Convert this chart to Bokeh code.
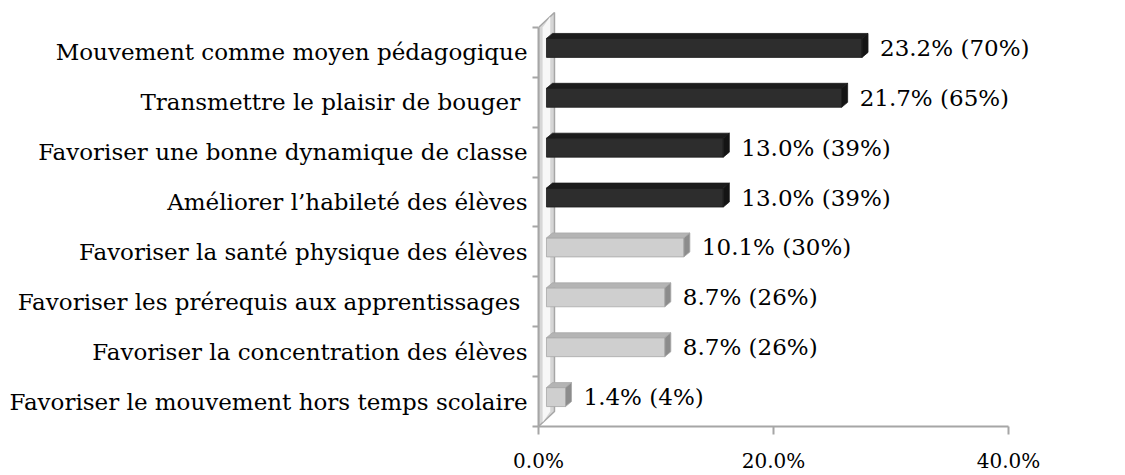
from bokeh.plotting import figure
from bokeh.models import Range1d, LinearAxis, FixedTicker, PrintfTickFormatter, ColumnDataSource
from bokeh.core.properties import value
from bokeh.embed import file_html
from bokeh.resources import INLINE

categories = [
    "Mouvement comme moyen pédagogique",
    "Transmettre  le plaisir de bouger",
    "Favoriser une bonne dynamique de classe",
    "Améliorer l’habileté des élèves",
    "Favoriser la santé physique des élèves",
    "Favoriser les prérequis aux apprentissages ",
    "Favoriser la concentration des élèves",
    "Favoriser le mouvement hors temps scolaire",
]
shares = [23.2, 21.7, 13.0, 13.0, 10.1, 8.7, 8.7, 1.4]
respondents = [70, 65, 39, 39, 30, 26, 26, 4]
highlighted = [True, True, True, True, False, False, False, False]
x_ticks = [0, 20, 40]

FONT = "DejaVu Serif"
FS = "23px"
TICK_FS = "20px"

n = len(categories)
centers = [n - 0.5 - i for i in range(n)]
depth_x = 0.44   # in bar units
depth_y = 0.10
bot = [c - 0.10 for c in centers]
top = [c + 0.28 for c in centers]

front_col = ["#2d2d2d" if h else "#cfcfcf" for h in highlighted]
top_col = ["#1c1c1c" if h else "#b4b4b4" for h in highlighted]
side_col = ["#141414" if h else "#8c8c8c" for h in highlighted]
edge_col = ["#1a1a1a" if h else "#a8a8a8" for h in highlighted]

src = ColumnDataSource(dict(
    left=[0] * n, right=shares, bottom=bot, top=top,
    front=front_col, topc=top_col, side=side_col, edge=edge_col,
    label=[f"{s:.1f}% ({r}%)" for s, r in zip(shares, respondents)],
    ly=[(b + t) / 2 for b, t in zip(bot, top)],
    top_xs=[[0, s, s + depth_x, depth_x] for s in shares],
    top_ys=[[t, t, t + depth_y, t + depth_y] for t in top],
    side_xs=[[s, s + depth_x, s + depth_x, s] for s in shares],
    side_ys=[[b, b + depth_y, t + depth_y, t] for b, t in zip(bot, top)],
))

p = figure(width=1120, height=475, output_backend="svg", toolbar_location=None,
           x_range=Range1d(0, 48.51), y_range=Range1d(0, 8.38),
           x_axis_type=None, y_axis_type=None,
           min_border_left=538, min_border_right=12, min_border_top=8, min_border_bottom=48)
p.extra_x_ranges = {"bars": Range1d(-0.588, 41.32)}
p.outline_line_color = None
p.background_fill_color = "white"
p.border_fill_color = "white"

# side wall
wall_x = [0, 0, 1.36, 1.36]
wall_y = [0, n, n + 0.3, 0.3]
p.patch(wall_x, wall_y, fill_color="#d6d6d6", line_color="#a6a6a6", line_width=1.5)
p.patch([0.35, 0.35, 1.0, 1.0], [0.08, n + 0.0, n + 0.22, 0.3], fill_color="#f7f7f7", line_color=None)

# bars
p.quad(left="left", right="right", bottom="bottom", top="top", source=src,
       fill_color="front", line_color="edge", line_width=0.8, x_range_name="bars")
p.patches(xs="top_xs", ys="top_ys", source=src, fill_color="topc", line_color="edge",
          line_width=0.8, x_range_name="bars")
p.patches(xs="side_xs", ys="side_ys", source=src, fill_color="side", line_color="edge",
          line_width=0.8, x_range_name="bars")

p.text(x="right", y="ly", text="label", source=src, x_range_name="bars", x_offset=18,
       text_font=value(FONT), text_font_size=FS, text_baseline="middle", text_align="left",
       text_color="black")

xaxis = LinearAxis(ticker=FixedTicker(ticks=x_ticks), formatter=PrintfTickFormatter(format="%.1f%%"),
                   bounds=(x_ticks[0], x_ticks[-1]))
xaxis.axis_line_color = "#a6a6a6"
xaxis.axis_line_width = 2
xaxis.major_tick_line_color = "#a6a6a6"
xaxis.major_tick_line_width = 2
xaxis.major_tick_out = 8
xaxis.major_tick_in = 0
xaxis.minor_tick_line_color = None
xaxis.major_label_text_font = FONT
xaxis.major_label_text_font_size = TICK_FS
xaxis.major_label_text_color = "black"
xaxis.major_label_standoff = 14
p.add_layout(xaxis, "below")

yaxis = LinearAxis(ticker=FixedTicker(ticks=centers, minor_ticks=list(range(n + 1))),
                   bounds=(0, n))
yaxis.major_label_overrides = {c: cat for c, cat in zip(centers, categories)}
yaxis.axis_line_color = "#a6a6a6"
yaxis.axis_line_width = 2
yaxis.major_tick_line_color = None
yaxis.major_tick_out = 0
yaxis.major_tick_in = 0
yaxis.minor_tick_line_color = "#a6a6a6"
yaxis.minor_tick_line_width = 2
yaxis.minor_tick_out = 6
yaxis.minor_tick_in = 0
yaxis.major_label_text_font = FONT
yaxis.major_label_text_font_size = FS
yaxis.major_label_text_color = "black"
yaxis.major_label_standoff = 5
p.add_layout(yaxis, "left")

open("out.html", "w").write(file_html(p, INLINE))
